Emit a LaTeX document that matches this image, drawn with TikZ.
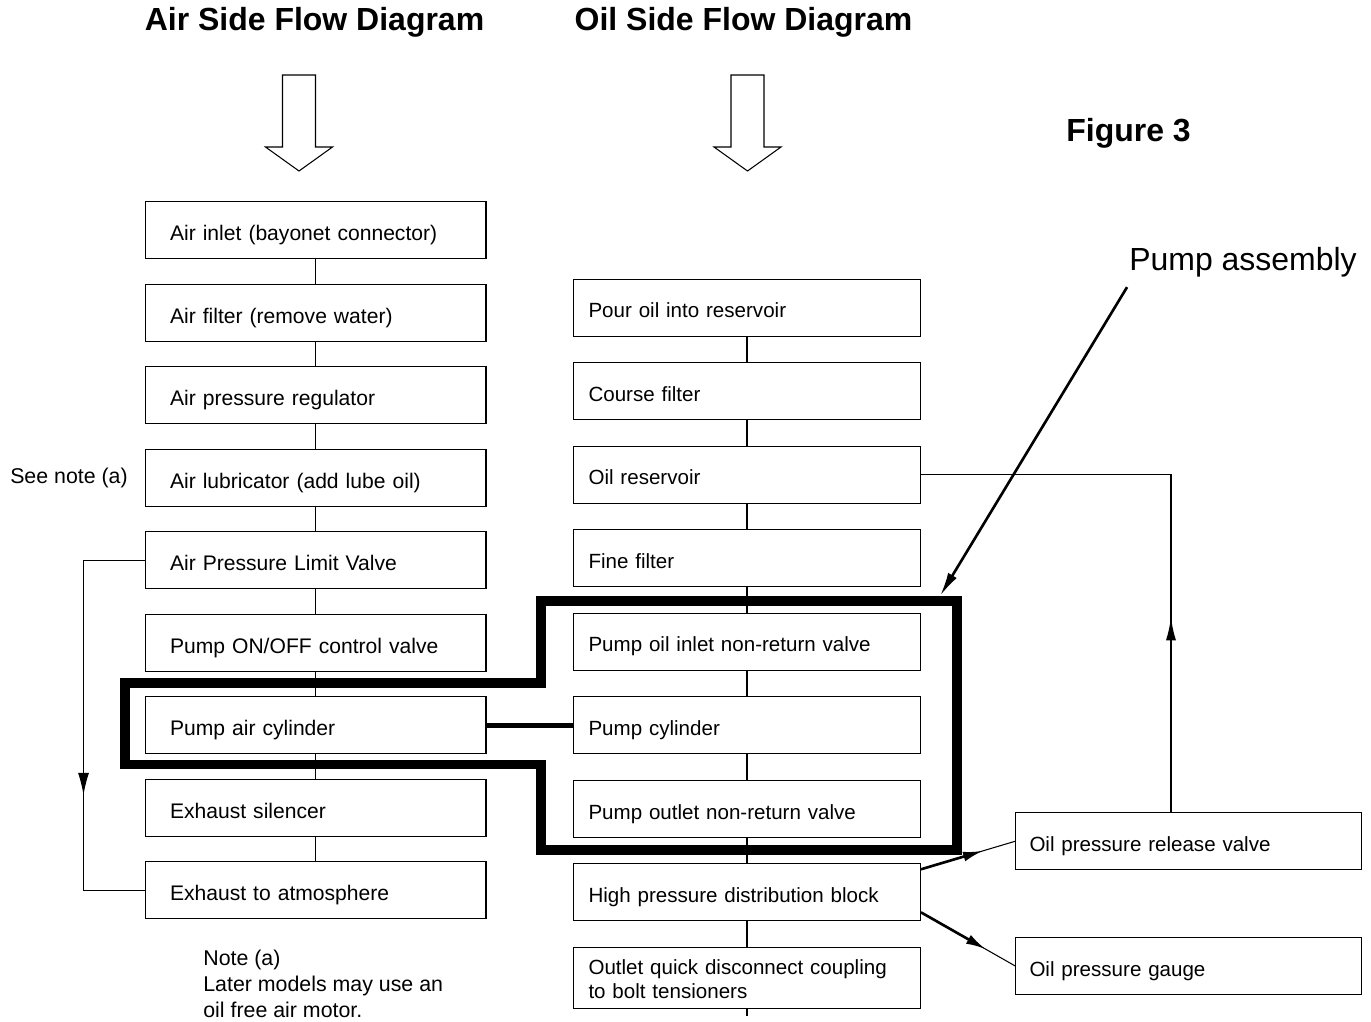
\documentclass[tikz,border=0pt]{standalone}
\usepackage{fontspec}
\setmainfont{Liberation Sans}
\usetikzlibrary{arrows.meta}
\usetikzlibrary{calc}
\usetikzlibrary{decorations.markings}
\usetikzlibrary{positioning}

\newcommand{\boxfont}{\fontsize{12}{13.7}\selectfont}
\newcommand{\oilfont}{\fontsize{11.7}{13.7}\selectfont}
\newcommand{\notefont}{\fontsize{12.15}{14.8}\selectfont}
\newcommand{\bigfont}{\fontsize{18.2}{21}\selectfont}
\newcommand{\boxstrut}{\rule[-0.25em]{0pt}{1.5em}}

\tikzset{
  thinline/.style={line width=0.6pt},
  airbox/.style={draw, thinline, font=\boxfont, align=left, text width=5.82cm,
    inner xsep=0.5cm, minimum height=1.14cm, execute at begin node=\boxstrut},
  oilbox/.style={airbox, font=\oilfont, text width=6.34cm, inner xsep=0.3cm,
    execute at begin node={}},
  sidebox/.style={oilbox, text width=6.36cm, inner xsep=0.28cm},
  plaintext/.style={font=\notefont, inner sep=0pt},
  titletext/.style={font=\bigfont\bfseries},
  assembly/.style={line width=0.19cm, miter limit=10},
  boldarrow/.style={line width=1.5pt, -{Latex[length=0.48cm,width=0.2cm]}},
  hparrow/.style={line width=1.5pt, -{Latex[length=0.4cm,width=0.2cm]}},
  midarrow/.style={postaction={decorate}, decoration={markings,
    mark=at position #1 with {\arrow{Latex[length=0.44cm,width=0.22cm]}}}}
}

\begin{document}
\begin{tikzpicture}[x=0.02cm, y=-0.02cm]
  \useasboundingbox (0,0) rectangle (1371,1021);

  % headings
  \node[titletext] (airtitle) at (314.5,22) {Air Side Flow Diagram};
  \node[titletext] (oiltitle) at (743.5,22) {Oil Side Flow Diagram};
  \node[titletext] (figtitle) at (1128.5,133) {Figure 3};
  \node[font=\bigfont] (pumpasm) at (1243,262) {Pump assembly};

  % open arrows under the headings
  \foreach \cx in {299,747.5}
    \draw[thinline] (\cx,75) ++(-16.5,0) -- ++(33,0) -- ++(0,72) -- ++(17,0)
      -- ++(-33.5,24) -- ++(-33.5,-24) -- ++(17,0) -- cycle;

  % air side
  \begin{scope}[node distance=0.49cm]
    \node[airbox] (inlet) at (315.5,230) {Air inlet (bayonet connector)};
    \node[airbox, below=of inlet] (filter) {Air filter (remove water)};
    \node[airbox, below=of filter] (regulator) {Air pressure regulator};
    \node[airbox, below=of regulator] (lubricator) {Air lubricator (add lube oil)};
    \node[airbox, below=of lubricator] (limit) {Air Pressure Limit Valve};
    \node[airbox, below=of limit] (onoff) {Pump ON/OFF control valve};
    \node[airbox, below=of onoff] (aircyl) {Pump air cylinder};
    \node[airbox, below=of aircyl] (silencer) {Exhaust silencer};
    \node[airbox, below=of silencer] (atmos) {Exhaust to atmosphere};
  \end{scope}

  % oil side
  \begin{scope}[node distance=0.51cm]
    \node[oilbox, right=1.73cm of aircyl] (pumpcyl) {Pump cylinder};
    \node[oilbox, above=of pumpcyl] (inletnrv) {Pump oil inlet non-return valve};
    \node[oilbox, above=of inletnrv] (fine) {Fine filter};
    \node[oilbox, above=of fine] (reservoir) {Oil reservoir};
    \node[oilbox, above=of reservoir] (course) {Course filter};
    \node[oilbox, above=of course] (pour) {Pour oil into reservoir};
    \node[oilbox, below=of pumpcyl] (outletnrv) {Pump outlet non-return valve};
    \node[oilbox, below=of outletnrv] (hpblock) {High pressure distribution block};
    \node[oilbox, below=of hpblock, inner ysep=1pt, text depth=18.2pt] (quick)
      {Outlet quick disconnect coupling\\to bolt tensioners};
  \end{scope}

  \node[sidebox, anchor=west] (release) at ($(hpblock.east)+(94,-51)$) {Oil pressure release valve};
  \node[sidebox, below=1.33cm of release] (gauge) {Oil pressure gauge};

  % notes
  \node[plaintext] (seenote) at (69,478) {See note (a)};
  \node[plaintext, align=left, anchor=west] (notea) at (203,984)
    {Note (a)\\Later models may use an\\oil free air motor.};

  % column links
  \foreach \a/\b in {inlet/filter, filter/regulator, regulator/lubricator,
      lubricator/limit, limit/onoff, onoff/aircyl, aircyl/silencer, silencer/atmos,
      pour/course, course/reservoir, reservoir/fine, fine/inletnrv,
      inletnrv/pumpcyl, pumpcyl/outletnrv, outletnrv/hpblock, hpblock/quick}
    \draw[thinline] (\a) -- (\b);
  \draw[thinline] (quick.south) -- ++(0,7);

  % bypass of the air motor
  \coordinate (loopl) at ($(limit.west)+(-61,0)$);
  \draw[thinline, midarrow=0.654] (limit.west) -- (loopl) |- (atmos.west);

  % oil return to the reservoir
  \coordinate (ret) at ($(release.north west)+(156,0)$);
  \coordinate (rettip) at ($(ret)+(0,-196)$);
  \draw[thinline] (reservoir.east) -| (ret);
  \draw[boldarrow] (ret) -- (rettip);

  % distribution block outlets
  \coordinate (hpup) at ($(hpblock.north east)+(0,6)$);
  \coordinate (hpdown) at ($(hpblock.south east)+(0,-9)$);
  \draw[thinline] (hpup) -- (release.west);
  \draw[hparrow] (hpup) -- ($(hpup)!0.66!(release.west)$);
  \draw[thinline] (hpdown) -- (gauge.west);
  \draw[hparrow] (hpdown) -- ($(hpdown)!0.69!(gauge.west)$);

  % pump assembly outline
  \draw[assembly] (125,683) -- (541,683) -- (541,601) -- (957,601) -- (957,850)
    -- (541,850) -- (541,764.5) -- (125,764.5) -- cycle;
  \draw[line width=0.1cm] (aircyl) -- (pumpcyl);
  \coordinate (asmtip) at (940,596);
  \draw[boldarrow] ($(pumpasm.south west)+(4,4)$) -- (asmtip);
\end{tikzpicture}
\end{document}
